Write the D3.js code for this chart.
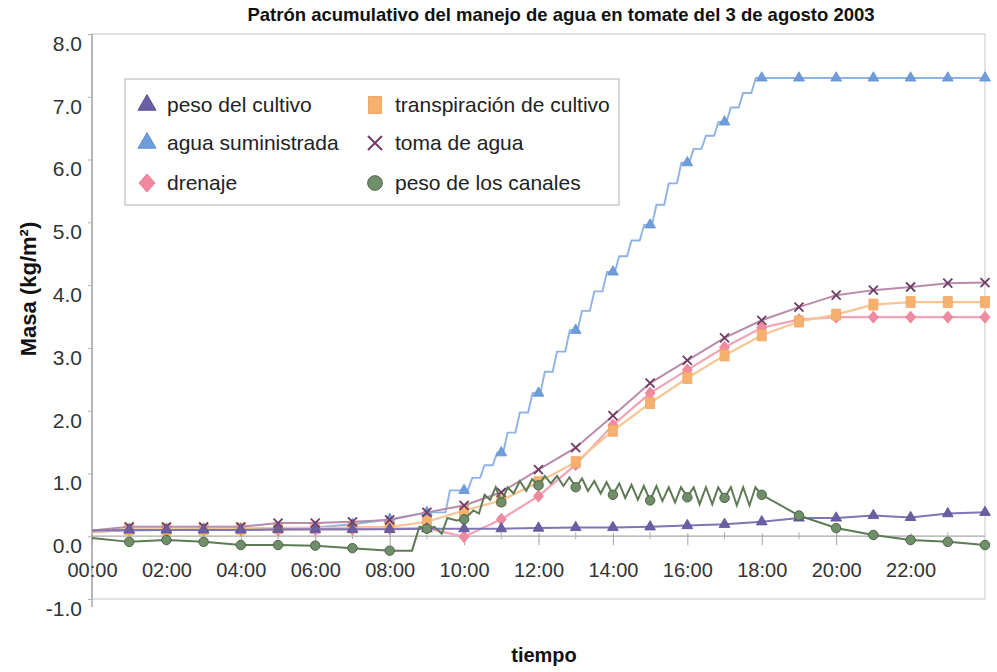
<!DOCTYPE html>
<html>
<head>
<meta charset="utf-8">
<script src="https://cdn.jsdelivr.net/npm/d3@7/dist/d3.min.js"></script>
<style>
  html, body { margin: 0; padding: 0; background: #fff; }
  svg { display: block; font-family: "Liberation Sans", Arial, Helvetica, sans-serif; }
</style>
</head>
<body>
<svg id="chart" width="997" height="672"></svg>
<script>
// ---------------- DATA ----------------
const titleText = "Patrón acumulativo del manejo de agua en tomate del 3 de agosto 2003";
const yTitle = "Masa (kg/m²)";
const xTitle = "tiempo";

const hours = [0,1,2,3,4,5,6,7,8,9,10,11,12,13,14,15,16,17,18,19,20,21,22,23,24];
const xTickHours = [0,2,4,6,8,10,12,14,16,18,20,22];
const xTickLabels = ["00:00","02:00","04:00","06:00","08:00","10:00","12:00","14:00","16:00","18:00","20:00","22:00"];
const yTicks = [-1,0,1,2,3,4,5,6,7,8];
const yTickLabels = ["-1.0","0.0","1.0","2.0","3.0","4.0","5.0","6.0","7.0","8.0"];

const pesoCultivo   = [0.09,0.10,0.10,0.10,0.10,0.11,0.11,0.11,0.11,0.12,0.12,0.12,0.13,0.14,0.14,0.15,0.17,0.19,0.23,0.29,0.29,0.33,0.30,0.36,0.38];
const aguaHourly    = [0.07,0.09,0.10,0.11,0.12,0.13,0.14,0.19,0.27,0.38,0.73,1.33,2.28,3.28,4.21,4.96,5.95,6.60,7.30,7.30,7.30,7.30,7.30,7.30,7.30];
const drenaje       = [0.07,0.10,0.10,0.10,0.10,0.10,0.11,0.11,0.12,0.13,-0.01,0.27,0.64,1.14,1.77,2.28,2.65,3.01,3.32,3.45,3.49,3.49,3.49,3.49,3.49];
const transpiracion = [0.08,0.11,0.11,0.11,0.12,0.13,0.13,0.14,0.15,0.23,0.41,0.57,0.86,1.18,1.68,2.12,2.52,2.88,3.20,3.42,3.53,3.69,3.73,3.73,3.73];
const tomaAgua      = [0.09,0.15,0.15,0.15,0.15,0.21,0.21,0.23,0.26,0.38,0.49,0.70,1.06,1.41,1.92,2.44,2.80,3.16,3.44,3.65,3.84,3.92,3.97,4.03,4.04];

// irrigation events of "agua suministrada" (hour of event, cumulative total after it)
const aguaStepHours  = [9.50,10.10,10.43,10.77,11.05,11.38,11.72,12.05,12.38,12.72,13.05,13.38,13.72,14.05,14.38,14.72,15.05,15.38,15.72,16.05,16.38,16.72,17.05,17.38,17.72];
const aguaStepTotals = [0.73,0.93,1.13,1.33,1.65,1.97,2.28,2.62,2.94,3.28,3.59,3.90,4.21,4.46,4.71,4.96,5.28,5.62,5.95,6.17,6.38,6.60,6.83,7.06,7.30];

// peso de los canales, finer record
const canalesHours  = [0,1,2,3,4,5,6,7,8,8.6,8.8,9,9.2,9.4,9.55,9.8,10,10.25,10.4,10.55,10.7,10.85,11,11.17,11.33,11.5,11.67,11.83,12,12.17,12.33,12.5,12.67,12.83,13,13.17,13.33,13.5,13.67,13.83,14,14.17,14.33,14.5,14.67,14.83,15,15.17,15.33,15.5,15.67,15.83,16,16.17,16.33,16.5,16.67,16.83,17,17.17,17.33,17.5,17.67,17.83,18,19,20,21,22,23,24];
const canalesValues = [-0.03,-0.09,-0.06,-0.09,-0.14,-0.14,-0.15,-0.19,-0.23,-0.23,0.15,0.12,0.15,0.04,0.29,0.25,0.27,0.41,0.36,0.66,0.58,0.78,0.54,0.78,0.68,0.88,0.72,0.91,0.81,0.96,0.84,0.96,0.80,0.94,0.78,0.92,0.72,0.88,0.68,0.86,0.66,0.84,0.61,0.82,0.58,0.80,0.57,0.80,0.56,0.78,0.54,0.78,0.62,0.78,0.51,0.78,0.51,0.78,0.61,0.78,0.49,0.78,0.49,0.78,0.66,0.33,0.13,0.02,-0.06,-0.09,-0.14];

const legendLabels = ["peso del cultivo","agua suministrada","drenaje","transpiración de cultivo","toma de agua","peso de los canales"];

// ---------------- LAYOUT ----------------
const svg = d3.select("#chart");
const L = 92, R = 985, T = 34, B = 599;
const x = d3.scaleLinear().domain([0,24]).range([L,R]);
const y = d3.scaleLinear().domain([-1,8]).range([B,T]);

// plot frame
svg.append("rect").attr("x",L).attr("y",T).attr("width",R-L).attr("height",B-T)
  .attr("fill","none").attr("stroke","#d0d0d0").attr("stroke-width",1.2);
// left axis line
svg.append("line").attr("x1",L).attr("x2",L).attr("y1",T).attr("y2",607)
  .attr("stroke","#a8a8a8").attr("stroke-width",1.5);

// y ticks + labels
const yAxis = d3.axisLeft(y).tickValues(yTicks).tickSize(4)
  .tickFormat((d,i)=>yTickLabels[i]);
const gy = svg.append("g").attr("transform",`translate(${L},0)`).call(yAxis);
gy.select(".domain").remove();
gy.selectAll(".tick line").attr("stroke","#b0b0b0");
gy.selectAll(".tick text").attr("font-size",21).attr("fill","#333")
  .attr("font-family","'Liberation Sans', Arial, sans-serif")
  .attr("x",-10).attr("dy","0.78em");

// x axis at 0
const y0 = y(0);
svg.append("line").attr("x1",L).attr("x2",R).attr("y1",y0).attr("y2",y0)
  .attr("stroke","#a8a8a8").attr("stroke-width",1.2);
const xAxis = d3.axisBottom(x).tickValues(xTickHours).tickSize(9)
  .tickFormat((d,i)=>xTickLabels[i]);
const gx = svg.append("g").attr("transform",`translate(0,${y0})`).call(xAxis);
gx.select(".domain").remove();
gx.selectAll(".tick line").attr("stroke","#a0a0a0").attr("y1",-3);
gx.selectAll(".tick text").attr("font-size",20).attr("fill","#333")
  .attr("font-family","'Liberation Sans', Arial, sans-serif")
  .attr("y",34).attr("dy","0.35em");
// minor hourly ticks
svg.append("g").selectAll("line").data(hours.filter(h=>h%2===1)).join("line")
  .attr("x1",d=>x(d)).attr("x2",d=>x(d)).attr("y1",y0-4).attr("y2",y0+3)
  .attr("stroke","#b0b0b0").attr("stroke-width",1);

// ---------------- SERIES ----------------
const line = d3.line().x(d=>x(d[0])).y(d=>y(d[1]));
const zip = (hs, vs) => hs.map((h,i)=>[h, vs[i]]);

// agua suministrada line: hourly until first event, irrigation steps, then hourly
const riser = 0.12;
const firstStep = aguaStepHours[0], lastStep = aguaStepHours[aguaStepHours.length-1];
let aguaPts = zip(hours, aguaHourly).filter(d=>d[0] <= firstStep);
let prev = aguaPts[aguaPts.length-1][1];
aguaStepHours.forEach((t,i)=>{
  aguaPts.push([t, prev]);
  aguaPts.push([t+riser, aguaStepTotals[i]]);
  prev = aguaStepTotals[i];
});
zip(hours, aguaHourly).filter(d=>d[0] > lastStep+riser).forEach(d=>aguaPts.push(d));

const sym = (type, size) => d3.symbol().type(type).size(size)();

function markers(data, path, fill, stroke, sw) {
  svg.append("g").selectAll("path").data(data.filter(d=>d[0]>0 && Number.isInteger(d[0]))).join("path")
    .attr("transform",d=>`translate(${x(d[0])},${y(d[1])})`)
    .attr("d",path).attr("fill",fill).attr("stroke",stroke).attr("stroke-width",sw||0.8);
}

const C = {
  agua:   {line:"#8fb2e4", mark:"#6f9ddc"},
  dren:   {line:"#f2a4b4", mark:"#f08aa0"},
  trans:  {line:"#f8c592", mark:"#f6b170"},
  toma:   {line:"#b98aab", mark:"#6e3c63"},
  peso:   {line:"#7f75b5", mark:"#6a5fa3"},
  canal:  {line:"#5d7a55", mark:"#6f8e69"}
};

// agua suministrada
svg.append("path").datum(aguaPts).attr("d",line).attr("fill","none")
  .attr("stroke",C.agua.line).attr("stroke-width",1.9);
markers(zip(hours, aguaHourly), sym(d3.symbolTriangle,50), C.agua.mark, "#5f8fd0");

// drenaje
const drenPts = zip(hours, drenaje);
svg.append("path").datum(drenPts).attr("d",line).attr("fill","none")
  .attr("stroke",C.dren.line).attr("stroke-width",2.2);
markers(drenPts, "M0,-6L5,0L0,6L-5,0Z", C.dren.mark, "#f07a92");

// transpiracion
const transPts = zip(hours, transpiracion);
svg.append("path").datum(transPts).attr("d",line).attr("fill","none")
  .attr("stroke",C.trans.line).attr("stroke-width",2.2);
markers(transPts, "M-4.5,-5.5h9v11h-9Z", C.trans.mark, "#f3a45f");

// toma de agua
const tomaPts = zip(hours, tomaAgua);
svg.append("path").datum(tomaPts).attr("d",line).attr("fill","none")
  .attr("stroke",C.toma.line).attr("stroke-width",2);
markers(tomaPts, "M-4.5,-4.5L4.5,4.5M4.5,-4.5L-4.5,4.5", "none", C.toma.mark, 1.8);

// peso del cultivo
const pesoPts = zip(hours, pesoCultivo);
svg.append("path").datum(pesoPts).attr("d",line).attr("fill","none")
  .attr("stroke",C.peso.line).attr("stroke-width",2);
markers(pesoPts, sym(d3.symbolTriangle,50), C.peso.mark, "#5a4f95");

// peso de los canales
const canalPts = zip(canalesHours, canalesValues);
svg.append("path").datum(canalPts).attr("d",line).attr("fill","none")
  .attr("stroke",C.canal.line).attr("stroke-width",2);
markers(canalPts, sym(d3.symbolCircle,70), C.canal.mark, "#4c6647", 1);

// ---------------- LEGEND ----------------
const lg = svg.append("g");
lg.append("rect").attr("x",125).attr("y",79).attr("width",494).attr("height",126)
  .attr("fill","#fff").attr("stroke","#bdbdbd").attr("stroke-width",1.2);
const legendItems = [
  {label:legendLabels[0], cx:147, cy:105, path:sym(d3.symbolTriangle,140), fill:C.peso.mark, stroke:"#5a4f95"},
  {label:legendLabels[1], cx:147, cy:143, path:sym(d3.symbolTriangle,140), fill:C.agua.mark, stroke:"#5f8fd0"},
  {label:legendLabels[2], cx:147, cy:183, path:"M0,-9L8,0L0,9L-8,0Z", fill:C.dren.mark, stroke:"#f07a92"},
  {label:legendLabels[3], cx:375, cy:105, path:"M-6.5,-8.5h13v17h-13Z", fill:C.trans.mark, stroke:"#f3a45f"},
  {label:legendLabels[4], cx:375, cy:143, path:"M-7,-7L7,7M7,-7L-7,7", fill:"none", stroke:C.toma.mark, sw:2},
  {label:legendLabels[5], cx:375, cy:183, path:sym(d3.symbolCircle,170), fill:C.canal.mark, stroke:"#4c6647"}
];
legendItems.forEach(it=>{
  lg.append("path").attr("d",it.path).attr("transform",`translate(${it.cx},${it.cy})`)
    .attr("fill",it.fill).attr("stroke",it.stroke).attr("stroke-width",it.sw||1);
  lg.append("text").attr("x",it.cx+20).attr("y",it.cy).attr("dy","0.35em")
    .attr("font-size",21).attr("fill","#222").text(it.label);
});

// ---------------- TITLES ----------------
svg.append("text").attr("x",561).attr("y",21).attr("text-anchor","middle")
  .attr("font-size",18.5).attr("font-weight","bold").attr("fill","#111").text(titleText);
svg.append("text").attr("transform","translate(28,289) rotate(-90)")
  .attr("text-anchor","middle").attr("dy","0.35em")
  .attr("font-size",22).attr("font-weight","bold").attr("fill","#111").text(yTitle);
svg.append("text").attr("x",544).attr("y",662).attr("text-anchor","middle")
  .attr("font-size",20).attr("font-weight","bold").attr("fill","#111").text(xTitle);
</script>
</body>
</html>
